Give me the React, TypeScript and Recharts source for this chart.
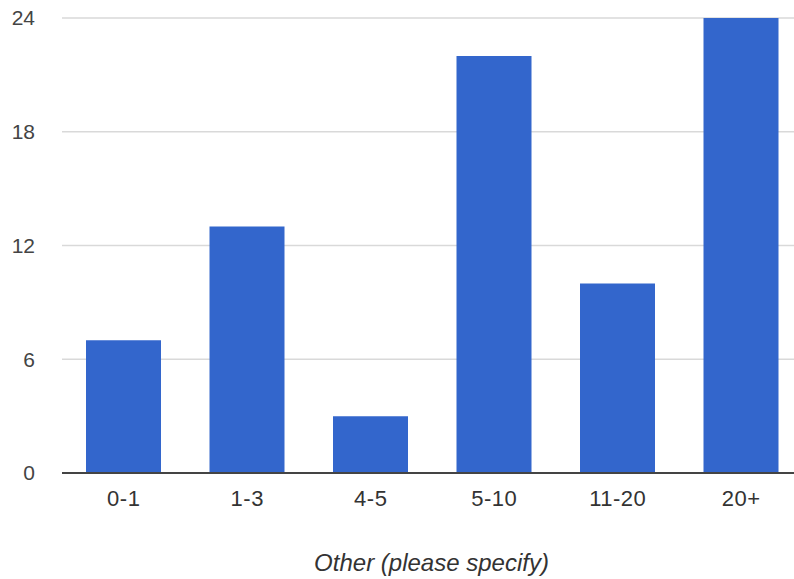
import React from 'react';
import { BarChart, Bar, XAxis, YAxis, CartesianGrid } from 'recharts';

// categories and counts
const categories = ['0-1', '1-3', '4-5', '5-10', '11-20', '20+'];
const counts = [7, 13, 3, 22, 10, 24];
const yTicks = [0, 6, 12, 18, 24];
const xTitle = 'Other (please specify)';

const data = categories.map((name, i) => ({ name, value: counts[i] }));

const font = '"Liberation Sans", Arial, sans-serif';

const App: React.FC = () => {
  // plot area runs a little past the right edge, as in the reference
  return (
    <div style={{ position: 'absolute', left: 0, top: 0, width: 794, height: 579, overflow: 'hidden', background: '#fff' }}>
      <BarChart
        width={803}
        height={579}
        data={data}
        margin={{ top: 18, right: 0, left: 0, bottom: 0 }}
        barSize={75}
      >
        <CartesianGrid vertical={false} stroke="#d9d9d9" strokeWidth={1.5} />
        <XAxis
          dataKey="name"
          height={106}
          axisLine={{ stroke: '#444', strokeWidth: 2 }}
          tickLine={false}
          tickSize={0}
          tickMargin={17}
          tick={{ fill: '#333', fontSize: 22, fontFamily: font, letterSpacing: 0.5 }}
          label={{
            value: xTitle,
            position: 'insideBottom',
            offset: 8,
            fill: '#333',
            fontSize: 24,
            fontStyle: 'italic',
            fontFamily: font,
            dx: -1,
          }}
        />
        <YAxis
          width={62}
          domain={[0, 24]}
          ticks={yTicks}
          axisLine={false}
          tickLine={false}
          tickSize={0}
          tickMargin={27}
          tick={{ fill: '#444', fontSize: 21, fontFamily: font }}
        />
        <Bar dataKey="value" fill="#3366cc" isAnimationActive={false} />
      </BarChart>
    </div>
  );
};

export default App;
